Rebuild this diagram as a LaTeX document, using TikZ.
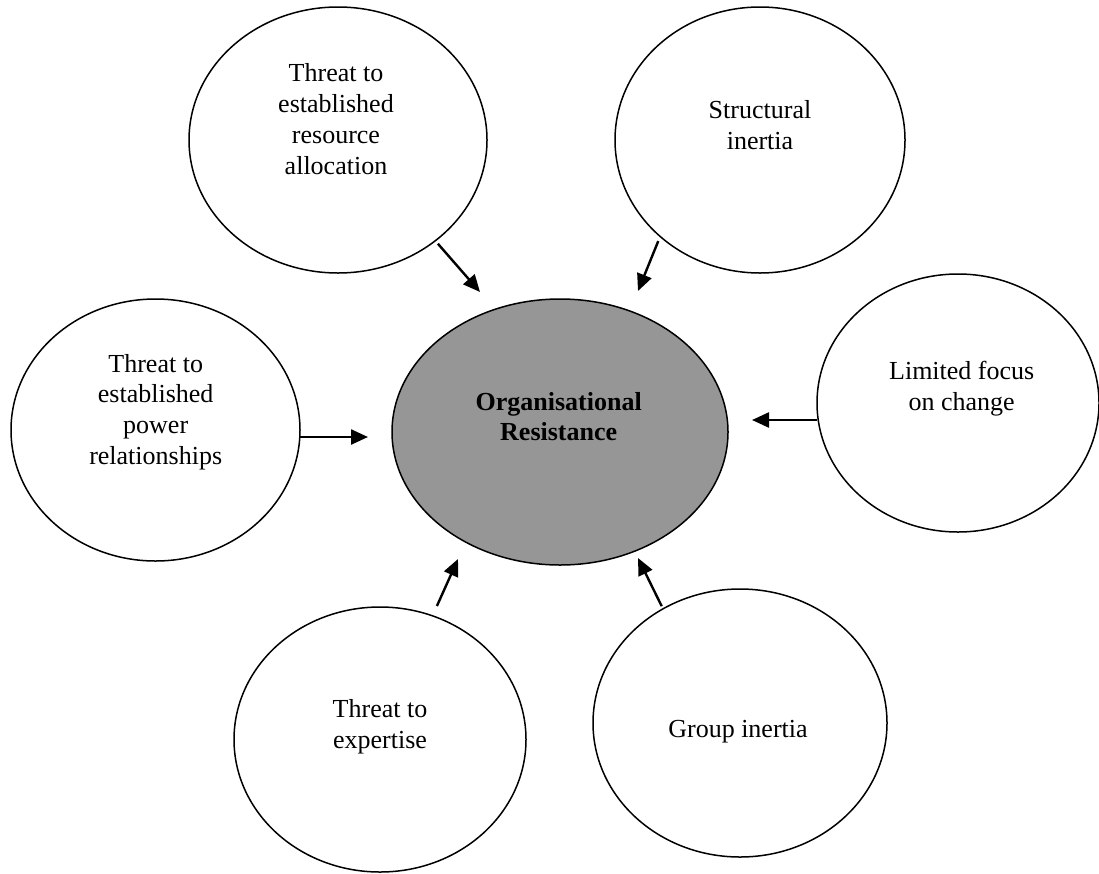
\documentclass[tikz,border=0pt]{standalone}
\usepackage{fontspec}
\setmainfont{Liberation Serif}
\usetikzlibrary{arrows.meta,shapes.geometric}
\definecolor{hubgray}{RGB}{150,150,150}
\newcommand\capfont{\fontsize{26}{30.8}\selectfont}
\begin{document}
\begin{tikzpicture}[x=1pt,y=-1pt,
  bubble/.style={ellipse, draw=black, line width=1.5pt, fill=white, inner sep=0pt, outer sep=0pt},
  caption/.style={align=center, font=\capfont, inner sep=0pt},
  push/.style={line width=2.4pt, -{Triangle[length=17pt,width=15pt]}}]
  \useasboundingbox (0,0) rectangle (1099,873);

  % surrounding causes and the central outcome
  \node[bubble, minimum width=298pt, minimum height=266pt] (alloc) at (338,140) {};
  \node[bubble, minimum width=290pt, minimum height=266pt] (structural) at (760,140) {};
  \node[bubble, minimum width=289pt, minimum height=262pt] (power) at (155.5,430) {};
  \node[bubble, minimum width=282pt, minimum height=258pt] (focus) at (958,403) {};
  \node[bubble, fill=hubgray, minimum width=336pt, minimum height=266pt] (hub) at (560,432) {};
  \node[bubble, minimum width=292pt, minimum height=265pt] (expertise) at (380,739.5) {};
  \node[bubble, minimum width=294pt, minimum height=268pt] (group) at (740,723) {};

  % labels
  \node[caption] (alloc-t) at (336,119) {Threat to\\established\\resource\\allocation};
  \node[caption] (structural-t) at (760,125.3) {Structural\\inertia};
  \node[caption] (focus-t) at (961.7,388.4) {Limited focus\\on change};
  \node[caption] (power-t) at (155.7,412) {Threat to\\established\\power\\relationships};
  \node[caption, font=\capfont\bfseries] (hub-t) at (558.7,416.6) {Organisational\\Resistance};
  \node[caption] (expertise-t) at (380,727) {Threat to\\expertise};
  \node[caption] (group-t) at (738,732) {Group inertia};

  % arrow tips near the central ellipse
  \coordinate (tipA) at (480,292);
  \coordinate (tipB) at (638,291);
  \coordinate (tipC) at (752,420);
  \coordinate (tipD) at (368,437);
  \coordinate (tipE) at (458,559);
  \coordinate (tipF) at (638,558);

  \draw[push, shorten <=4pt] (alloc.-46.4) -- (tipA);
  \draw[push, shorten <=5pt] (structural.224.7) -- (tipB);
  \draw[push] (focus.west |- tipC) -- (tipC);
  \draw[push] (power.east |- tipD) -- (tipD);
  \draw[push, shorten <=10.8pt] (expertise.67) -- (tipE);
  \draw[push, shorten <=3pt] (group.124.4) -- (tipF);
\end{tikzpicture}
\end{document}
